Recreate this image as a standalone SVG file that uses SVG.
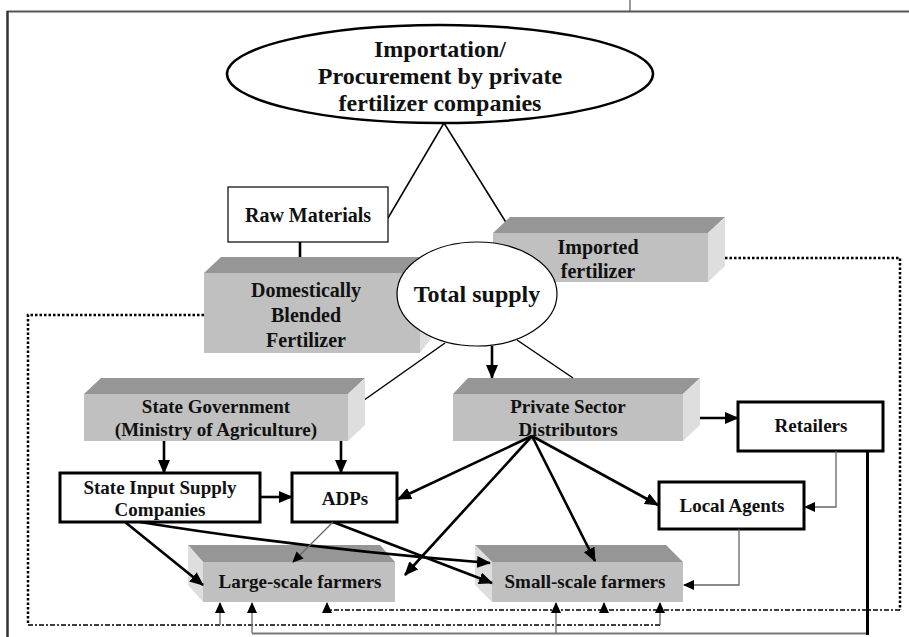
<svg xmlns="http://www.w3.org/2000/svg" width="909" height="637" viewBox="0 0 909 637">
<style>
text{font-family:"Liberation Serif","Times New Roman",serif;font-weight:bold;fill:#111;text-anchor:middle}
.t20{font-size:20px}
.t19{font-size:19px}
.t24{font-size:24px}
.front{fill:#c0c0c0}
.top{fill:#969696}
.side{fill:#dedede}
.box{fill:#fff;stroke:#000;stroke-width:3}
.thin{fill:none;stroke:#000;stroke-width:1.5}
.thick{fill:none;stroke:#000;stroke-width:2.6}
.gray{fill:none;stroke:#666;stroke-width:1.3}
.dot{fill:none;stroke:#000;stroke-width:2.5;stroke-dasharray:2.5 2}
.dd{fill:none;stroke:#000;stroke-width:1.6;stroke-dasharray:5 2 2 2}
</style>
<defs>
<marker id="ah" markerUnits="userSpaceOnUse" markerWidth="14" markerHeight="12" refX="13" refY="6" orient="auto">
<path d="M0,0 L14,6 L0,12 z" fill="#000"/>
</marker>
<marker id="as" markerUnits="userSpaceOnUse" markerWidth="11" markerHeight="10" refX="10" refY="5" orient="auto">
<path d="M0,0 L11,5 L0,10 z" fill="#000"/>
</marker>
</defs>
<rect width="909" height="637" fill="#fff"/>
<g id="frame">
<line x1="630" y1="0" x2="630" y2="11" stroke="#333" stroke-width="1"/>
<line x1="7" y1="11.5" x2="909" y2="11.5" stroke="#555" stroke-width="2"/>
<line x1="7.5" y1="11" x2="7.5" y2="637" stroke="#333" stroke-width="2.5"/>
</g>

<g id="connectors">
<line class="thin" x1="444" y1="123" x2="388" y2="218"/>
<line class="thin" x1="444" y1="123" x2="507" y2="224"/>
<line class="thick" x1="300" y1="242" x2="300" y2="273" marker-end="url(#ah)"/>
<path class="dot" d="M725,258 H900 V610"/>
<path class="dot" d="M204,315 H28 V625"/>
<path class="dd" d="M900,610 H327"/>
<path class="dd" d="M28,625 H660"/>
<line class="gray" x1="327" y1="610" x2="327" y2="603" marker-end="url(#as)"/>
<line class="gray" x1="604" y1="610" x2="604" y2="603" marker-end="url(#as)"/>
<line class="gray" x1="220" y1="625" x2="220" y2="603" marker-end="url(#as)"/>
<line class="gray" x1="660" y1="625" x2="660" y2="603" marker-end="url(#as)"/>
<path d="M252,633.5 H868" fill="none" stroke="#777" stroke-width="2"/>
<line class="gray" x1="252" y1="633" x2="252" y2="603" marker-end="url(#as)"/>
<line class="gray" x1="556" y1="633" x2="556" y2="603" marker-end="url(#as)"/>
<line x1="867.5" y1="451" x2="867.5" y2="635" stroke="#000" stroke-width="3"/>
</g>

<g id="imported">
<polygon class="top" points="493,233 510,217 725,217 708,233"/>
<rect class="front" x="493" y="233" width="215" height="49"/>
<polygon class="side" points="708,233 725,217 725,266 708,282"/>
<text class="t20" x="598" y="254">Imported</text>
<text class="t20" x="598" y="278">fertilizer</text>
</g>
<g id="domestic">
<polygon class="top" points="204,273 221,257 432,257 420,273"/>
<rect class="front" x="204" y="273" width="216" height="80"/>
<polygon class="side" points="420,273 432,257 432,337 420,353"/>
<text class="t20" x="306" y="297">Domestically</text>
<text class="t20" x="306" y="322">Blended</text>
<text class="t20" x="306" y="347">Fertilizer</text>
</g>
<g id="raw">
<rect x="228" y="187" width="160" height="55" fill="#fff" stroke="#000" stroke-width="1.2"/>
<text class="t20" x="308" y="222">Raw Materials</text>
</g>
<g id="title">
<ellipse cx="440" cy="74" rx="213" ry="49" fill="#fff" stroke="#000" stroke-width="2.5"/>
<text class="t24" x="440" y="57">Importation/</text>
<text class="t24" x="440" y="84">Procurement by private</text>
<text class="t24" x="440" y="111">fertilizer companies</text>
</g>
<g id="total">
<ellipse cx="477" cy="294" rx="80" ry="52" fill="#fff" stroke="#000" stroke-width="1.2"/>
<text class="t24" x="477" y="302">Total supply</text>
</g>

<g id="conn2">
<line class="thin" x1="445" y1="343" x2="350" y2="410"/>
<line class="thin" x1="517" y1="340" x2="573" y2="378"/>
<line class="thick" x1="492" y1="346" x2="492" y2="378" marker-end="url(#ah)"/>
</g>

<g id="stategov">
<polygon class="top" points="84,394 101,378 365,378 348,394"/>
<rect class="front" x="84" y="394" width="264" height="47"/>
<polygon class="side" points="348,394 365,378 365,425 348,441"/>
<text class="t19" x="216" y="413">State Government</text>
<text class="t19" x="216" y="436">(Ministry of Agriculture)</text>
</g>
<g id="private">
<polygon class="top" points="453,394 468,378 700,378 683,394"/>
<rect class="front" x="453" y="394" width="230" height="47"/>
<polygon class="side" points="683,394 700,378 700,425 683,441"/>
<text class="t19" x="568" y="413">Private Sector</text>
<text class="t19" x="568" y="436">Distributors</text>
</g>
<g id="retailers">
<rect class="box" x="738" y="402" width="145" height="49"/>
<text class="t19" x="811" y="432">Retailers</text>
</g>
<g id="inputsupply">
<rect class="box" x="60" y="473" width="200" height="49"/>
<text class="t19" x="160" y="494">State Input Supply</text>
<text class="t19" x="160" y="516">Companies</text>
</g>
<g id="adps">
<rect class="box" x="292" y="473" width="105" height="49"/>
<text class="t19" x="345" y="505">ADPs</text>
</g>
<g id="localagents">
<rect class="box" x="659" y="482" width="145" height="47"/>
<text class="t19" x="732" y="512">Local Agents</text>
</g>
<g id="largescale">
<polygon class="top" points="188,545 380,545 395,562 203,562"/>
<polygon class="side" points="188,545 203,562 203,602 188,585"/>
<rect class="front" x="203" y="562" width="192" height="40"/>
<text class="t19" x="300" y="588">Large-scale farmers</text>
</g>
<g id="smallscale">
<polygon class="top" points="475,545 666,545 683,562 492,562"/>
<polygon class="side" points="475,545 492,562 492,602 475,585"/>
<rect class="front" x="492" y="562" width="191" height="40"/>
<text class="t19" x="585" y="588">Small-scale farmers</text>
</g>

<g id="connectors3">
<line class="thick" x1="164" y1="441" x2="164" y2="473" marker-end="url(#ah)"/>
<line class="thick" x1="341" y1="441" x2="341" y2="473" marker-end="url(#ah)"/>
<line class="thick" x1="260" y1="497" x2="292" y2="497" marker-end="url(#ah)"/>
<line class="thick" x1="700" y1="418" x2="738" y2="418" marker-end="url(#ah)"/>
<line class="thick" x1="532" y1="436" x2="398" y2="499" marker-end="url(#ah)"/>
<line class="thick" x1="532" y1="436" x2="405" y2="575" marker-end="url(#ah)"/>
<line class="thick" x1="532" y1="436" x2="595" y2="561" marker-end="url(#ah)"/>
<line class="thick" x1="532" y1="436" x2="658" y2="505" marker-end="url(#ah)"/>
<line class="thick" x1="125" y1="522" x2="203" y2="585" marker-end="url(#ah)"/>
<path class="thick" d="M140,522 Q300,548 490,563" marker-end="url(#ah)"/>
<line class="gray" x1="333" y1="522" x2="293" y2="562" marker-end="url(#as)"/>
<line class="thick" x1="333" y1="522" x2="492" y2="583" marker-end="url(#ah)"/>
<path class="gray" d="M836,451 V507 H805" marker-end="url(#as)"/>
<path class="gray" d="M739,529 V585 H684" marker-end="url(#as)"/>
</g>
</svg>
